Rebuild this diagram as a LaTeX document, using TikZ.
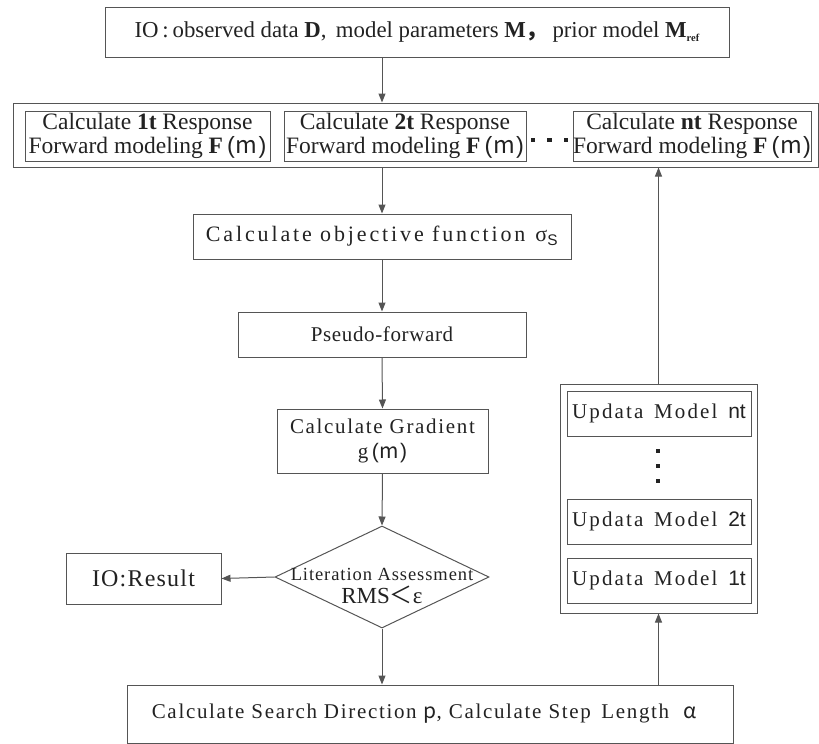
\documentclass[tikz,border=0pt]{standalone}
\usepackage{fontspec}
\setmainfont{Liberation Serif}
\newfontfamily\sansf{Liberation Sans}
\newfontfamily\cjk{Noto Sans CJK SC}
\newfontfamily\wideA[LetterSpace=3]{Liberation Serif}
\newfontfamily\wideB[LetterSpace=8]{Liberation Serif}
\newfontfamily\wideC[LetterSpace=10]{Liberation Serif}
\newfontfamily\wideD[LetterSpace=13]{Liberation Serif}
\newfontfamily\wideE[LetterSpace=5]{Liberation Serif}
\usetikzlibrary{arrows.meta,shapes.geometric}
\definecolor{linec}{HTML}{555555}
\definecolor{txtc}{HTML}{222222}
\tikzset{
  box/.style={draw=linec, line width=1pt, inner sep=0pt, align=center, text=txtc, font=\fontsize{20}{23}\selectfont},
  rowbox/.style={box, minimum height=50pt, font=\fontsize{23.5}{24}\selectfont},
  updbox/.style={box, minimum width=184pt, minimum height=45pt, font=\wideC\fontsize{21}{23}\selectfont},
  arr/.style={draw=linec, line width=1pt, -{Triangle[length=9pt,width=7pt]}},
  dotsq/.style={fill=txtc, minimum size=4.5pt, inner sep=0pt}
}
\newcommand{\Fm}{\textbf{F}{\sansf\,(\kern1pt{\cjk m}\kern1pt)}}
\begin{document}
\begin{tikzpicture}[x=1pt,y=-1pt]
\useasboundingbox (0,0) rectangle (819,744);
% top
\node[box, minimum width=624pt, minimum height=50pt, font=\fontsize{22.8}{24}\selectfont] (top) at (417,32)
  {IO\,:\,observed data \textbf{D},\, model parameters \textbf{M}{\cjk\bfseries ，}\,prior model \textbf{M}\raisebox{-0.35ex}{\fontsize{10.5}{10.5}\selectfont\bfseries ref}};
% container
\node[box, minimum width=805pt, minimum height=64pt] (cont) at (415.5,135) {};
\node[rowbox, minimum width=245pt] (r1) at (147.5,136) {Calculate \textbf{1t} Response\\Forward modeling \Fm};
\node[rowbox, minimum width=242pt] (r2) at (405,136) {Calculate \textbf{2t} Response\\Forward modeling \Fm};
\node[rowbox, minimum width=238pt] (rn) at (692,136) {Calculate \textbf{nt} Response\\Forward modeling \Fm};
\node[dotsq] (d1) at (533,140) {};
\node[dotsq] (d2) at (549.5,140) {};
\node[dotsq] (d3) at (566,140) {};
% main column
\node[box, minimum width=378pt, minimum height=45pt, font=\wideD\fontsize{22}{23}\selectfont] (obj) at (382,236.5) {Calculate objective function\hspace{10pt}σ\textsubscript{\sansf S}};
\node[box, minimum width=288pt, minimum height=45pt, font=\wideA\fontsize{21}{23}\selectfont] (pseudo) at (382,334.5) {Pseudo-forward};
\node[box, minimum width=211pt, minimum height=64pt, font=\wideB\fontsize{21}{25}\selectfont] (grad) at (382.5,441) {Calculate Gradient\\ g{\sansf\,(\kern1pt{\cjk m}\kern1pt)}};
\node[draw=linec, line width=1pt, shape=diamond, inner sep=0pt, minimum width=214pt, minimum height=102pt] (dia) at (382,577) {};
\node[align=center, text=txtc, inner sep=0pt] (diat) at (382,586) {{\wideE\fontsize{18.5}{18.5}\selectfont Literation Assessment}\\[5pt]{\fontsize{23}{23}\selectfont RMS{\cjk ＜}ε}};
\node[box, minimum width=155pt, minimum height=51pt, font=\wideE\fontsize{24}{25}\selectfont] (res) at (143.5,578.5) {IO:Result};
\node[box, minimum width=606pt, minimum height=58pt, font=\wideB\fontsize{21}{23}\selectfont] (search) at (430,714) {Calculate Search Direction {\cjk p}, Calculate Step\, Length \ {\cjk α}\hspace{12pt}};
% update stack
\node[box, minimum width=197pt, minimum height=229pt] (upd) at (658.5,498.5) {};
\node[updbox] (unt) at (659,413.5) {Updata\, Model\, {\sansf nt}};
\node[updbox] (u2t) at (659,521.5) {Updata\, Model\, {\sansf 2t}};
\node[updbox] (u1t) at (659,580.5) {Updata\, Model\, {\sansf 1t}};
\node[dotsq] (v1) at (658,451) {};
\node[dotsq] (v2) at (658,466) {};
\node[dotsq] (v3) at (658,481) {};
% connectors
\draw[arr] (obj.north |- top.south) -- (obj.north |- cont.north);
\draw[arr] (obj.north |- cont.south) -- (obj.north);
\draw[arr] (obj.south) -- (pseudo.north);
\draw[arr] (pseudo.south) -- (grad.north);
\draw[arr] (grad.south) -- (dia.north);
\draw[arr] (dia.west) -- (res.east);
\draw[arr] (dia.south) -- (dia.south |- search.north);
\draw[arr] (upd.south |- search.north) -- (upd.south);
\draw[arr] (upd.north) -- (upd.north |- cont.south);
\end{tikzpicture}
\end{document}
